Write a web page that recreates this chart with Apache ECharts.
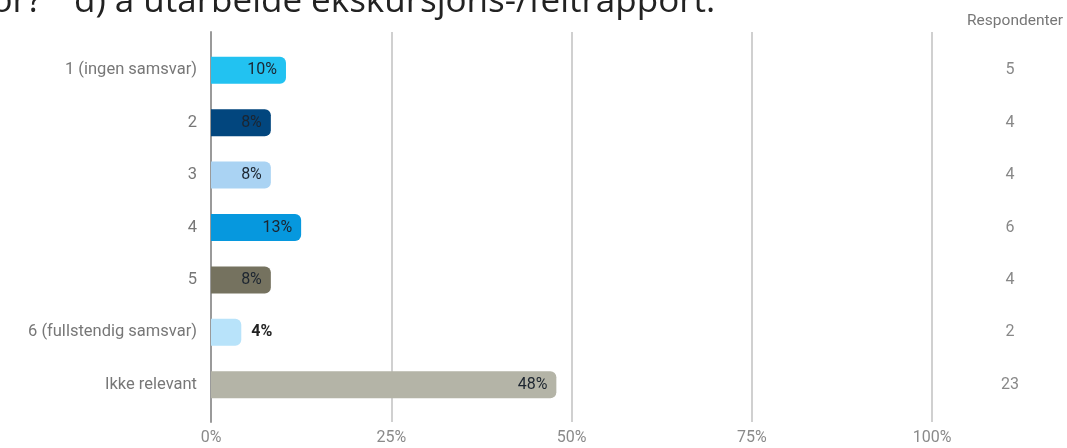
<!DOCTYPE html>
<html><head><meta charset="utf-8">
<script src="https://cdn.jsdelivr.net/npm/echarts@6/dist/echarts.min.js"></script>
<style>html,body{margin:0;padding:0;background:#fff;}#c{width:1067px;height:448px;}</style>
</head><body><div id="c"></div>
<script>
const categories = ['1 (ingen samsvar)', '2', '3', '4', '5', '6 (fullstendig samsvar)', 'Ikke relevant'];
const percents = [10.4, 8.3, 8.3, 12.5, 8.3, 4.2, 47.9];
const respondents = [5, 4, 4, 6, 4, 2, 23];
const barColors = ['#22c2f1', '#02467e', '#aad3f3', '#0698de', '#75725f', '#b8e3fa', '#b4b4a7'];
const xTicks = [0, 25, 50, 75, 100];
const titlePrefix = 'or?';
const titleText = 'd) å utarbeide ekskursjons-/feltrapport.';
const font = 'Roboto';

const chart = echarts.init(document.getElementById('c'));
chart.setOption({
  animation: false,
  graphic: [{
    type: 'text', x: 42, y: 19,
    style: { text: titlePrefix, font: '35px "Open Sans"', fill: '#222', align: 'right', verticalAlign: 'bottom', lineHeight: 34 }
  }, {
    type: 'text', x: 74, y: 19,
    style: { text: titleText, font: '35px "Open Sans"', fill: '#222', align: 'left', verticalAlign: 'bottom', lineHeight: 34 }
  }, {
    type: 'text', right: 4, top: 13,
    style: { text: 'Respondenter', font: '15.5px Roboto', fill: '#777' }
  }],
  grid: [
    { left: 211, right: 135, top: 44, bottom: 37 },
    { left: 211, right: 135, top: 32, bottom: 26 }
  ],
  xAxis: [
    { gridIndex: 0, type: 'value', min: 0, max: 100, interval: 25, show: false, splitLine: { show: false } },
    { gridIndex: 1, type: 'value', min: 0, max: 100, interval: 25,
      axisLine: { show: false }, axisTick: { show: false },
      splitLine: { show: true, lineStyle: { color: '#d0d0d0', width: 2 } },
      axisLabel: { formatter: v => v + '%', color: '#8a8a8a', fontFamily: font, fontSize: 16, margin: 8 } }
  ],
  yAxis: [
    { gridIndex: 0, type: 'category', data: categories, inverse: true,
      axisLine: { show: false }, axisTick: { show: false },
      axisLabel: { color: '#777', fontFamily: font, fontSize: 16.5, margin: 14 } },
    { gridIndex: 0, type: 'category', data: respondents.map(String), inverse: true, position: 'right',
      axisLine: { show: false }, axisTick: { show: false },
      axisLabel: { color: '#888', fontFamily: font, fontSize: 16, margin: 78, align: 'center' } },
    { gridIndex: 1, type: 'value', min: 0, max: 1, show: true,
      axisLine: { show: true, lineStyle: { color: '#9a9a9a', width: 2 } },
      axisTick: { show: false }, axisLabel: { show: false }, splitLine: { show: false } }
  ],
  series: [{
    type: 'bar', xAxisIndex: 0, yAxisIndex: 0,
    data: percents.map((v, i) => ({
      value: v,
      itemStyle: { color: barColors[i] },
      label: v < 6 ? { position: 'right', distance: 10, fontWeight: 'bold', color: '#222' } : {}
    })),
    barWidth: 27,
    itemStyle: { borderRadius: [0, 6, 6, 0] },
    label: { show: true, position: 'insideRight', distance: 9, formatter: p => Math.round(p.value) + '%',
      color: '#1c2530', fontFamily: font, fontSize: 16 },
    z: 3
  }]
});
</script></body></html>
